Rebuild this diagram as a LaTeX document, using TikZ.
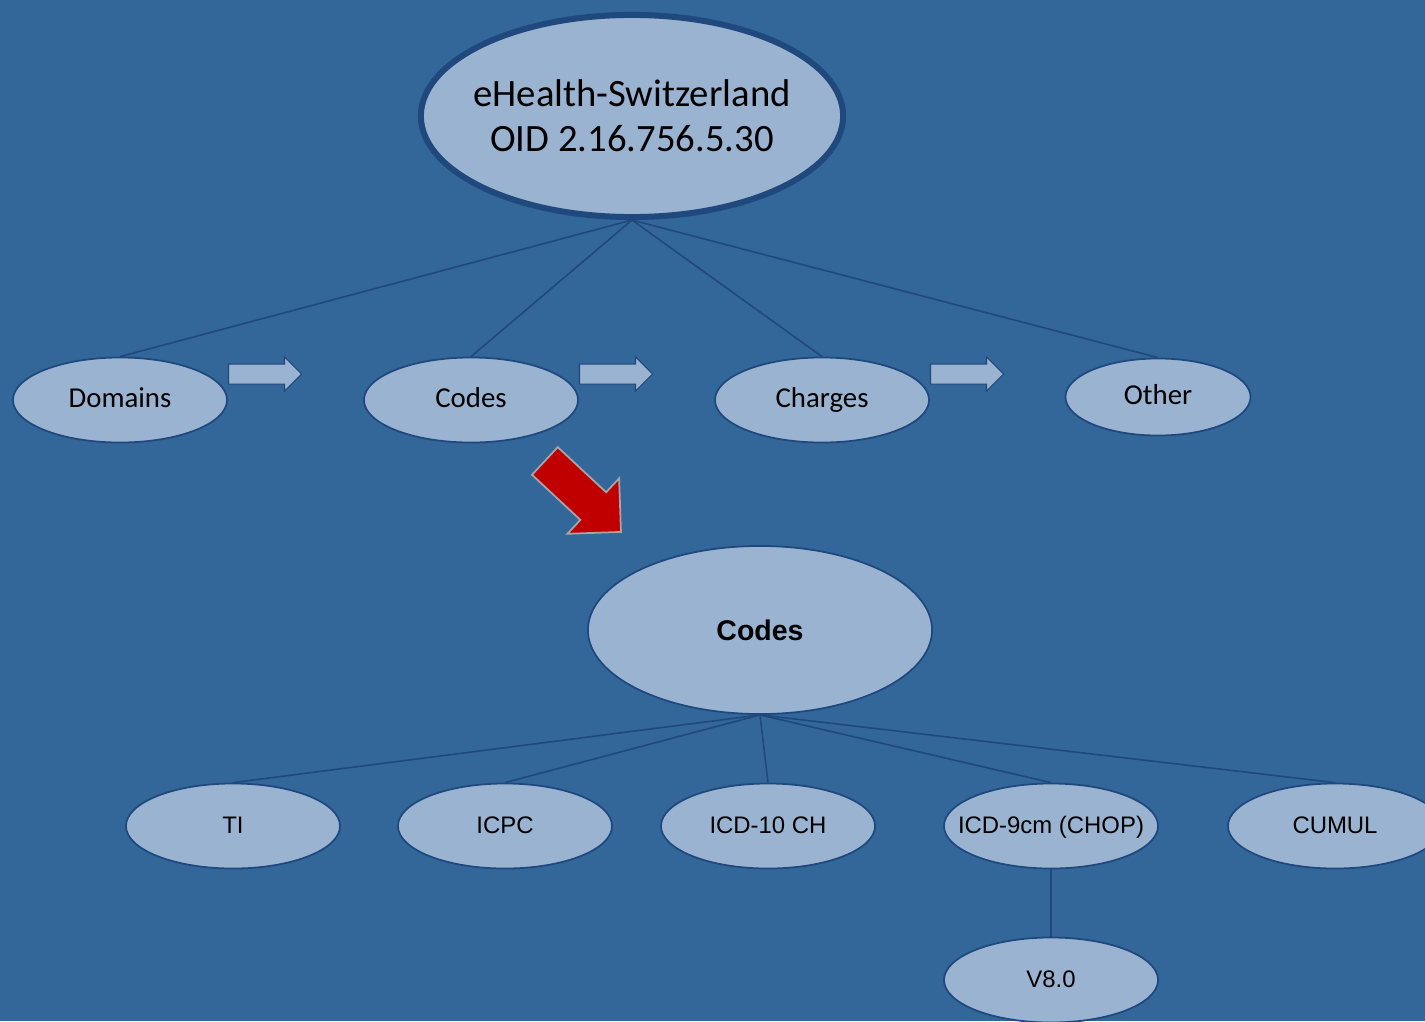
\documentclass[tikz,border=0pt]{standalone}
\usepackage{fontspec}
\setmainfont{Liberation Sans}
\newfontfamily\calfont{Carlito}
\usetikzlibrary{shapes,shapes.geometric,shapes.arrows}
\definecolor{bgblue}{RGB}{51,102,153}
\definecolor{paleblue}{RGB}{153,179,209}
\definecolor{darkblue}{RGB}{31,73,125}
\definecolor{darkred}{RGB}{192,0,0}
\tikzstyle{root}=[ellipse,fill=paleblue,draw=darkblue,line width=1.7pt,minimum width=4.22cm,minimum height=2.02cm,inner xsep=-0.2cm,inner ysep=0pt,align=center,font=\calfont\fontsize{11}{12.8}\selectfont]
\tikzstyle{branchnode}=[ellipse,fill=paleblue,draw=darkblue,line width=0.5pt,minimum width=2.14cm,minimum height=0.85cm,inner xsep=-0.3cm,inner ysep=0pt,text height=1.6ex,text depth=0.8ex,font=\calfont\fontsize{8.2}{10}\selectfont]
\tikzstyle{hub}=[ellipse,fill=paleblue,draw=darkblue,line width=0.5pt,minimum width=3.44cm,minimum height=1.68cm,inner sep=0pt,font=\bfseries\fontsize{8.1}{10}\selectfont]
\tikzstyle{codeset}=[ellipse,fill=paleblue,draw=darkblue,line width=0.5pt,minimum width=2.14cm,minimum height=0.85cm,inner xsep=-0.3cm,inner ysep=0pt,text height=1.6ex,text depth=0.8ex,font=\fontsize{6.8}{8}\selectfont]
\tikzstyle{edge} = [draw,darkblue,line width=0.45pt]
\tikzstyle{blockarrow} = [single arrow,fill=paleblue,draw=darkblue,line width=0.3pt,inner xsep=0pt,inner ysep=0.095cm,minimum height=0.73cm,single arrow head extend=0.07cm]
\tikzstyle{bigarrow} = [single arrow,fill=darkred,draw=gray!70,line width=0.5pt,inner xsep=0pt,inner ysep=0.18cm,minimum height=1.04cm,single arrow head extend=0.19cm]

\begin{document}
\begin{tikzpicture}[x=0.01cm,y=-0.01cm]
    \fill[bgblue] (0,0) rectangle (1425,1021);
    \useasboundingbox (0,0) rectangle (1425,1021);

    % Upper tree
    \node[root] (ehealth) at (632,116) {eHealth-Switzerland\\OID 2.16.756.5.30};

    \foreach \pos/ \name/ \txt in {{(120,400)/domains/Domains},{(471,400)/codes/Codes},{(822,400)/charges/Charges}}
        \node[branchnode] (\name) at \pos {\txt};
    \node[branchnode,minimum width=1.85cm,minimum height=0.77cm] (other) at (1158,397) {Other};

    \foreach \dest in {domains,codes,charges,other}
        \path[edge] (ehealth.south) -- (\dest.north);

    % Arrows between the branches
    \foreach \pos/ \name in {{(260,374)/arrA},{(611,374)/arrB},{(962,374)/arrC}}
        \node[blockarrow] (\name) at \pos {};

    \node[bigarrow,rotate=-43] (zoomarrow) at (576,490) {};

    % Lower tree
    \node[hub] (codeshub) at (760,630) {Codes};

    \foreach \pos/ \name/ \txt in {{(233,826)/ti/TI},{(505,826)/icpc/ICPC},{(768,826)/icdten/ICD-10 CH},{(1051,826)/icdnine/ICD-9cm (CHOP)},{(1335,826)/cumul/CUMUL},{(1051,980)/veight/V8.0}}
        \node[codeset] (\name) at \pos {\txt};

    \foreach \dest in {ti,icpc,icdten,icdnine,cumul}
        \path[edge] (codeshub.south) -- (\dest.north);
    \path[edge] (icdnine.south) -- (veight.north);
\end{tikzpicture}
\end{document}
